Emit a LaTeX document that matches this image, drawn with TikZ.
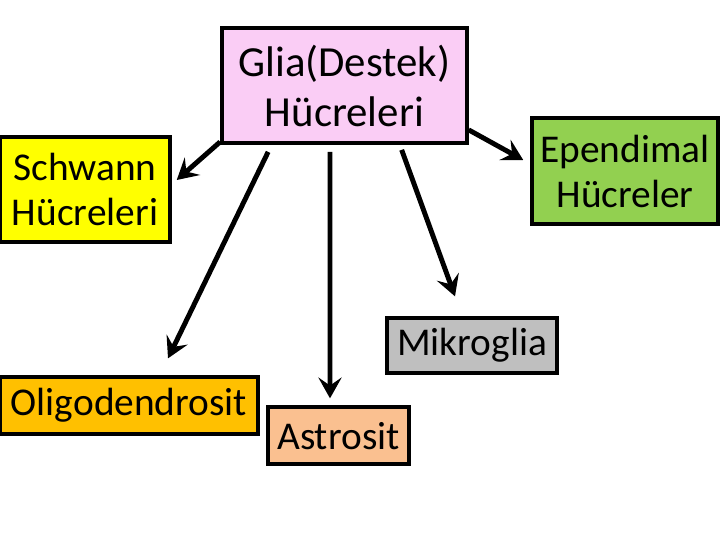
\documentclass[tikz,border=0pt]{standalone}
\usepackage{fontspec}
\setmainfont{Carlito}
\usetikzlibrary{arrows.meta,positioning,calc}
\definecolor{gliapink}{RGB}{250,205,245}
\definecolor{schwannyellow}{RGB}{255,255,0}
\definecolor{ependimalgreen}{RGB}{146,208,80}
\definecolor{mikrogray}{RGB}{191,191,191}
\definecolor{oligoorange}{RGB}{255,192,0}
\definecolor{astropeach}{RGB}{250,192,144}

\begin{document}
\begin{tikzpicture}[>={Stealth[length=0.52cm,width=0.58cm,inset=0.2cm]},
    cellbox/.style={draw, line width=2.5pt, inner sep=0pt, align=center,
        font=\fontsize{28}{32}\selectfont},
    arr/.style={->, line width=3.5pt}]
        % frame of the picture
        \useasboundingbox (0,0) rectangle (18,-13.5);

        % Top: Glia cells
        \node[cellbox, fill=gliapink, minimum width=6.125cm, minimum height=2.875cm,
            font=\fontsize{30.5}{35.5}\selectfont] (glia) at (8.61,-2.14)
            {Glia(Destek)\\Hücreleri};

        % Left: Schwann cells
        \node[cellbox, fill=schwannyellow, minimum width=4.25cm, minimum height=2.625cm]
            (schwann) at (2.125,-4.74) {Schwann\\Hücreleri};

        % Right: Ependymal cells
        \node[cellbox, fill=ependimalgreen, minimum width=4.65cm, minimum height=2.65cm]
            (ependimal) at (15.625,-4.275) {Ependimal\\Hücreler};

        % Microglia
        \node[cellbox, fill=mikrogray, minimum width=4.25cm, minimum height=1.375cm]
            (mikroglia) at (11.8,-8.64) {Mikroglia};

        % Oligodendrocyte
        \node[cellbox, fill=oligoorange, minimum width=6.45cm, minimum height=1.425cm]
            (oligo) at (3.225,-10.14) {Oligodendrosit};

        % Astrocyte
        \node[cellbox, fill=astropeach, minimum width=3.525cm, minimum height=1.425cm]
            (astrosit) at (8.46,-10.89) {Astrosit};

        % Arrows
        \draw[arr] ($(glia.south west)+(0,0.075)$) -- ($(schwann.east)+(0.125,0.24)$);
        \draw[arr] ($(glia.south west)+(1.2,-0.175)$) -- ($(oligo.north)+(0.975,0.425)$);
        \draw[arr] ($(glia.south)+(-0.36,-0.175)$) -- ($(astrosit.north)+(-0.21,0.175)$);
        \draw[arr] ($(glia.south east)+(-1.675,-0.125)$) -- ($(mikroglia.north)+(-0.425,0.5)$);
        \draw[arr] ($(glia.south east)+(0,0.375)$) -- ($(ependimal.west)+(-0.175,0.275)$);

    \end{tikzpicture}
\end{document}
